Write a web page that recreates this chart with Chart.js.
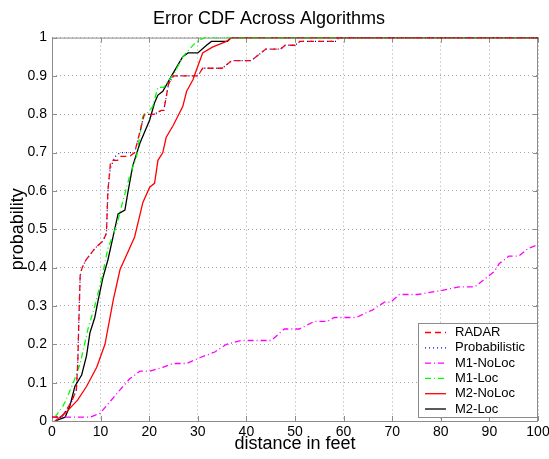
<!DOCTYPE html>
<html>
<head>
<meta charset="utf-8">
<script src="https://cdn.jsdelivr.net/npm/chart.js@4.4.1/dist/chart.umd.min.js"></script>
<style>
  body { margin: 0; background: #fff; }
  #wrap { width: 549px; height: 459px; }
</style>
</head>
<body>
<div id="wrap"><canvas id="cdfChart" width="549" height="459"></canvas></div>
<script>
// Error CDF curves (x = distance in feet, y = probability)
const radarX = [0, 2, 3, 4, 5, 5.3, 5.5, 5.8, 6.2, 7, 8.8, 10.5, 11.2, 11.5, 12, 12.3, 13.5, 14, 16, 17, 19, 21, 22.5, 23, 24, 25, 30, 31, 35, 36, 37, 41, 42.5, 44, 47, 48, 50, 51, 58, 59, 100];
const radarY = [0.01, 0.01, 0.03, 0.05, 0.08, 0.15, 0.25, 0.38, 0.40, 0.42, 0.45, 0.47, 0.49, 0.60, 0.67, 0.68, 0.68, 0.69, 0.69, 0.70, 0.80, 0.80, 0.81, 0.81, 0.88, 0.90, 0.90, 0.92, 0.92, 0.93, 0.94, 0.94, 0.955, 0.97, 0.97, 0.98, 0.98, 0.99, 0.99, 1, 1];

const probX = [0, 2, 3, 4, 5, 5.3, 5.5, 5.8, 6.2, 7, 8.8, 10.5, 11.2, 11.5, 12, 13, 14, 16, 17, 19, 21, 22.5, 23, 24, 25, 30, 31, 35, 36, 37, 41, 42.5, 44, 47, 48, 50, 51, 58.5, 59, 100];
const probY = [0.01, 0.01, 0.03, 0.05, 0.08, 0.15, 0.25, 0.38, 0.40, 0.42, 0.45, 0.47, 0.49, 0.60, 0.66, 0.69, 0.70, 0.70, 0.70, 0.80, 0.80, 0.81, 0.81, 0.88, 0.90, 0.90, 0.92, 0.92, 0.93, 0.94, 0.94, 0.955, 0.97, 0.97, 0.98, 0.98, 0.99, 0.99, 1, 1];

const m1NoLocX = [0, 7.8, 9.9, 11.9, 13.9, 16, 18.1, 20.1, 22.8, 24.9, 27.7, 30.4, 33.5, 35.9, 39, 45.1, 47.8, 50.9, 54, 56.7, 58.1, 62.6, 66, 68.4, 69.7, 71.5, 75.2, 80, 83.8, 87, 89, 91, 92, 94, 96, 98, 100];
const m1NoLocY = [0.01, 0.01, 0.02, 0.05, 0.08, 0.11, 0.13, 0.13, 0.14, 0.15, 0.15, 0.165, 0.18, 0.20, 0.21, 0.21, 0.24, 0.24, 0.26, 0.26, 0.27, 0.27, 0.29, 0.31, 0.31, 0.33, 0.33, 0.34, 0.35, 0.35, 0.37, 0.39, 0.41, 0.43, 0.43, 0.45, 0.46];

const m1LocX = [0.6, 2.3, 2.7, 4.4, 5.8, 7.4, 8.8, 10.2, 11.5, 13.3, 14.3, 16, 17.4, 18.7, 19.4, 20.7, 21.8, 23, 25.3, 26.9, 29.7, 31.4, 100];
const m1LocY = [0.01, 0.04, 0.05, 0.10, 0.15, 0.24, 0.30, 0.37, 0.45, 0.51, 0.56, 0.64, 0.69, 0.795, 0.80, 0.82, 0.87, 0.87, 0.91, 0.95, 0.99, 1, 1];

const m2NoLocX = [0.6, 2.7, 5.3, 7.1, 9.2, 10.9, 12.6, 14, 15.6, 17, 18.7, 20.1, 21.1, 21.8, 22.8, 23.5, 24.9, 26.9, 27.7, 29, 29.7, 31, 33, 35.9, 36.9, 100];
const m2NoLocY = [0, 0.02, 0.055, 0.09, 0.14, 0.20, 0.315, 0.395, 0.44, 0.48, 0.57, 0.61, 0.62, 0.68, 0.70, 0.74, 0.77, 0.82, 0.86, 0.89, 0.915, 0.96, 0.975, 0.99, 1, 1];

const m2LocX = [0.6, 2.7, 3.7, 4.7, 6.1, 7.1, 7.8, 8.8, 9.5, 10.5, 11.5, 12.9, 13.6, 15, 15.6, 16.6, 18.1, 20.1, 21.1, 21.8, 22.8, 24.6, 26.9, 28, 30, 31.8, 32.8, 36.1, 36.9, 100];
const m2LocY = [0, 0.01, 0.04, 0.09, 0.12, 0.17, 0.23, 0.27, 0.315, 0.375, 0.42, 0.50, 0.54, 0.55, 0.595, 0.665, 0.725, 0.785, 0.83, 0.85, 0.86, 0.90, 0.95, 0.96, 0.96, 0.98, 0.99, 0.99, 1, 1];

const seriesNames = ['RADAR', 'Probabilistic', 'M1-NoLoc', 'M1-Loc', 'M2-NoLoc', 'M2-Loc'];
const xTicks = [0, 10, 20, 30, 40, 50, 60, 70, 80, 90, 100];
const yTicks = [0, 0.1, 0.2, 0.3, 0.4, 0.5, 0.6, 0.7, 0.8, 0.9, 1];

const FONT = "'Liberation Sans', Arial, sans-serif";

function toPoints(xs, ys) {
    return xs.map((x, i) => ({ x: x, y: ys[i] }));
}

function makeSet(label, xs, ys, color, dash) {
    return {
        label: label,
        data: toPoints(xs, ys),
        borderColor: color,
        backgroundColor: color,
        borderWidth: 1.3,
        borderDash: dash,
        pointRadius: 0,
        tension: 0,
        fill: false
    };
}

// box around the plot, MATLAB style inward ticks
const boxPlugin = {
    id: 'boxPlugin',
    beforeDatasetsDraw(chart) {
        const { ctx, chartArea: a, scales } = chart;
        ctx.save();
        ctx.strokeStyle = '#8c8c8c';
        ctx.lineWidth = 1;
        ctx.setLineDash([]);
        ctx.strokeRect(a.left + 0.5, a.top + 0.5, a.right - a.left - 1, a.bottom - a.top);
        ctx.beginPath();
        xTicks.forEach(v => {
            const px = Math.round(scales.x.getPixelForValue(v)) + 0.5;
            ctx.moveTo(px, a.bottom); ctx.lineTo(px, a.bottom - 5);
            ctx.moveTo(px, a.top); ctx.lineTo(px, a.top + 5);
        });
        yTicks.forEach(v => {
            const py = Math.round(scales.y.getPixelForValue(v)) + 0.5;
            ctx.moveTo(a.left, py); ctx.lineTo(a.left + 5, py);
            ctx.moveTo(a.right, py); ctx.lineTo(a.right - 5, py);
        });
        ctx.stroke();
        ctx.restore();
    }
};

// legend box inside the lower right corner of the plot
const legendBoxPlugin = {
    id: 'legendBox',
    afterDraw(chart) {
        const { ctx, chartArea: a } = chart;
        const sets = chart.data.datasets;
        const w = 119, h = 94;
        const x0 = a.right - w - 1, y0 = a.bottom - h - 4;
        ctx.save();
        ctx.fillStyle = '#fff';
        ctx.fillRect(x0, y0, w, h);
        ctx.strokeStyle = '#8c8c8c';
        ctx.lineWidth = 1;
        ctx.setLineDash([]);
        ctx.strokeRect(x0 + 0.5, y0 + 0.5, w, h);
        ctx.font = '13px ' + FONT;
        ctx.textBaseline = 'middle';
        ctx.fillStyle = '#000';
        sets.forEach((ds, i) => {
            const y = y0 + 9.5 + i * 15.3;
            ctx.beginPath();
            ctx.strokeStyle = ds.borderColor;
            ctx.lineWidth = ds.borderWidth;
            ctx.setLineDash(ds.borderDash || []);
            ctx.moveTo(x0 + 7, y);
            ctx.lineTo(x0 + 28, y);
            ctx.stroke();
            ctx.setLineDash([]);
            ctx.fillText(ds.label, x0 + 37, y);
        });
        ctx.restore();
    }
};

const ctx = document.getElementById('cdfChart').getContext('2d');
const cdfChart = new Chart(ctx, {
    type: 'line',
    data: {
        datasets: [
            makeSet(seriesNames[0], radarX, radarY, '#ff0000', [6, 4]),
            makeSet(seriesNames[1], probX, probY, '#0000ff', [1, 3]),
            makeSet(seriesNames[2], m1NoLocX, m1NoLocY, '#ff00ff', [6, 3, 1, 3]),
            makeSet(seriesNames[3], m1LocX, m1LocY, '#00ff00', [6, 3, 1, 3]),
            makeSet(seriesNames[4], m2NoLocX, m2NoLocY, '#ff0000', []),
            makeSet(seriesNames[5], m2LocX, m2LocY, '#000000', [])
        ]
    },
    options: {
        responsive: false,
        animation: false,
        layout: { padding: { left: 0, right: 11, top: 0, bottom: 0 } },
        plugins: {
            legend: { display: false },
            tooltip: { enabled: false },
            title: {
                display: true,
                text: 'Error CDF Across Algorithms',
                color: '#000',
                font: { family: FONT, size: 18, weight: 'normal' },
                padding: { top: 8, bottom: 8 }
            }
        },
        scales: {
            x: {
                type: 'linear',
                min: 0,
                max: 100,
                afterBuildTicks: s => { s.ticks = xTicks.map(v => ({ value: v })); },
                afterFit: s => { s.height = 38; s.paddingLeft = 0; s.paddingRight = 0; },
                ticks: {
                    color: '#000',
                    font: { family: FONT, size: 14 },
                    padding: 3,
                    maxRotation: 0
                },
                grid: {
                    color: '#a8a8a8',
                    lineWidth: 1,
                    drawTicks: false
                },
                border: { display: false, dash: [1, 3] },
                title: {
                    display: true,
                    text: 'distance in feet',
                    color: '#000',
                    font: { family: FONT, size: 18 },
                    padding: { top: 0, bottom: 4 }
                }
            },
            y: {
                type: 'linear',
                min: 0,
                max: 1,
                afterBuildTicks: s => { s.ticks = yTicks.map(v => ({ value: v })); },
                afterFit: s => { s.width = 52; s.paddingTop = 0; s.paddingBottom = 0; },
                ticks: {
                    color: '#000',
                    font: { family: FONT, size: 14 },
                    padding: 5,
                    callback: v => String(Math.round(v * 10) / 10)
                },
                grid: {
                    color: '#a8a8a8',
                    lineWidth: 1,
                    drawTicks: false
                },
                border: { display: false, dash: [1, 3] },
                title: {
                    display: true,
                    text: 'probability',
                    color: '#000',
                    font: { family: FONT, size: 18 },
                    padding: { top: 7, bottom: 0 }
                }
            }
        }
    },
    plugins: [boxPlugin, legendBoxPlugin]
});
</script>
</body>
</html>
